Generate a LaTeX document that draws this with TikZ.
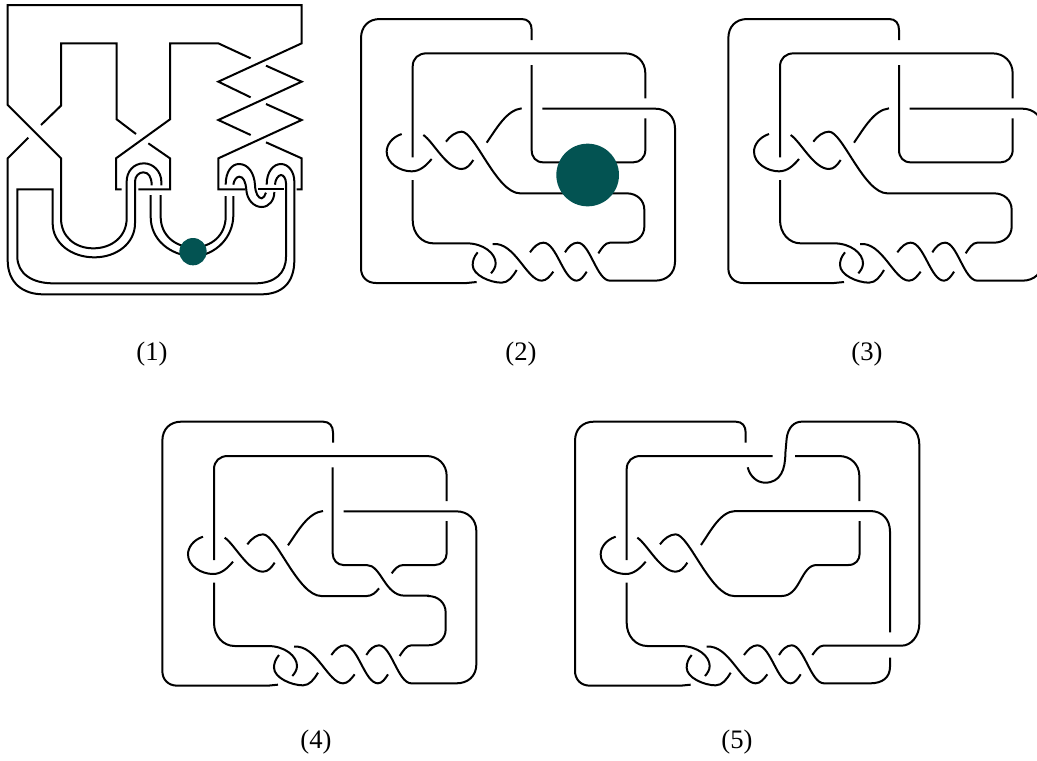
\documentclass[tikz,border=0pt]{standalone}
\usepackage{fontspec}
\setmainfont{Liberation Serif}
\definecolor{dot}{RGB}{3,83,82}
\tikzset{
  strand/.style={draw=black,line width=1.5pt,line join=miter,line cap=butt},
  third/.style={x=0.25pt,y=-0.25pt},
  lab/.style={font=\fontsize{20pt}{24pt}\selectfont,inner sep=0pt,text=black},
}
% pieces common to figures 2-5, in thirds of a pixel
\newcommand\knotcommon{%
  \draw[strand] (380,846) .. controls (365,849) .. (350,849) -- (78,849) .. controls (50,849) and (33,830) .. (33,805) -- (33,115) .. controls (33,80) and (55,57) .. (90,57) -- (515,57) .. controls (535,57) and (545,70) .. (545,90) -- (545,120);
  \draw[strand] (155,402) .. controls (125,412) and (110,435) .. (110,455) .. controls (110,490) and (150,514) .. (185,514) .. controls (210,514) and (228,497) .. (245,477);
  \draw[strand] (220,405) .. controls (250,425) and (290,507) .. (335,507) .. controls (350,507) and (360,495) .. (370,480);
  \draw[strand] (188,540) -- (188,660) .. controls (188,700) and (215,730) .. (250,730) -- (350,730) .. controls (400,730) and (437,760) .. (437,790) .. controls (437,802) and (430,812) .. (423,820);
  \draw[strand] (383,757) .. controls (372,770) and (368,782) .. (368,795) .. controls (368,825) and (420,848) .. (455,848) .. controls (475,848) and (488,830) .. (500,810);
  \draw[strand] (428,732) .. controls (495,725) and (530,842) .. (575,842) .. controls (590,842) and (600,828) .. (610,815);
  \draw[strand] (540,757) .. controls (552,740) and (565,728) .. (580,728) .. controls (620,728) and (640,842) .. (680,842) .. controls (692,842) and (702,828) .. (710,815);
}
% the unchanged upper strand of figures 2-4
\newcommand\bfull{\draw[strand] (188,472) -- (188,200) .. controls (188,175) and (205,160) .. (230,160) -- (825,160) .. controls (860,160) and (886,185) .. (886,220) -- (886,295);}
\newcommand\eright{\draw[strand] (645,757) .. controls (655,740) and (668,728) .. (683,728) .. controls (720,728) and (740,842) .. (780,842) -- (915,842) .. controls (950,842) and (975,820) .. (975,785) -- (975,385) .. controls (975,350) and (950,326) .. (915,326) -- (577,326);
  \draw[strand] (410,428) .. controls (440,385) and (470,330) .. (515,325);}
\newcommand\etail{(830,580) .. controls (860,580) and (883,600) .. (883,630) -- (883,680) .. controls (883,708) and (860,728) .. (830,728) -- (780,728) .. controls (765,728) and (755,745) .. (745,760)}
\begin{document}
\begin{tikzpicture}[x=0.75pt,y=-0.75pt]
\clip (0,0) rectangle (1037,760);
\fill[white] (0,0) rectangle (1037,760);
% figure 1
\begin{scope}[third]
  \draw[strand] (752,292) -- (655,245) -- (905,130) -- (905,15) -- (23,15) -- (23,315) -- (183,475) -- (183,655) .. controls (183,710) and (225,745) .. (280,745) .. controls (335,745) and (380,710) .. (380,655) -- (380,545) .. controls (380,515) and (400,490) .. (432,490) .. controls (460,490) and (484,515) .. (484,545) -- (484,556);
  \draw[strand] (455,556) .. controls (455,530) and (445,517) .. (430,517) .. controls (417,517) and (405,528) .. (405,545) -- (405,670) .. controls (405,730) and (350,772) .. (283,772) .. controls (215,772) and (158,730) .. (158,670) -- (158,568) -- (52,568) -- (52,770) .. controls (52,820) and (95,850) .. (160,850) -- (765,850) .. controls (825,850) and (858,820) .. (858,770) -- (858,550) .. controls (858,535) and (850,525) .. (843,525) .. controls (835,525) and (825,540) .. (825,554);
  \draw[strand] (85,413) -- (23,475) -- (23,780) .. controls (23,850) and (70,883) .. (130,883) -- (783,883) .. controls (845,883) and (883,850) .. (883,780) -- (883,545) .. controls (883,515) and (865,492) .. (843,492) .. controls (820,492) and (800,515) .. (800,554);
  \draw[strand] (123,375) -- (183,317) -- (183,130) -- (350,130) -- (350,358) -- (408,402);
  \draw[strand] (445,430) -- (510,475) -- (510,568) -- (415,568);
  \draw[strand] (365,568) -- (348,568) -- (348,475) -- (510,358) -- (510,130) -- (655,130) -- (752,175);
  \draw[strand] (798,197) -- (905,245) -- (655,360) -- (752,405);
  \draw[strand] (798,312) -- (905,360) -- (655,475) -- (655,568) -- (735,568);
  \draw[strand] (798,427) -- (905,475) -- (905,568) -- (890,568);
  \draw[strand] (775,568) -- (852,568);
  \draw[strand] (452,585) -- (452,650) .. controls (452,720) and (510,765) .. (580,770) .. controls (650,765) and (700,710) .. (700,645) -- (700,588);
  \draw[strand] (482,585) -- (482,650) .. controls (482,705) and (525,742) .. (580,742) .. controls (635,742) and (677,705) .. (677,650) -- (677,588);
  \draw[strand] (700,554) .. controls (702,540) and (710,530) .. (718,530) .. controls (730,530) and (737,545) .. (739,570) .. controls (741,600) and (762,621) .. (785,621) .. controls (808,621) and (823,600) .. (823,576);
  \draw[strand] (677,554) .. controls (677,515) and (695,492) .. (717,492) .. controls (745,492) and (763,520) .. (765,555) .. controls (766,580) and (775,595) .. (785,595) .. controls (790,595) and (795,587) .. (798,578);
  \fill[dot] (579,755) circle [radius=41];
\end{scope}
% figure 2
\begin{scope}[third,xshift=262.5pt]
  \knotcommon \bfull \eright
  \draw[strand] (886,355) -- (886,450) .. controls (886,472) and (870,487) .. (850,487) -- (580,487) .. controls (558,487) and (545,472) .. (545,450) -- (545,195);
  \draw[strand] (288,425) .. controls (300,408) and (318,395) .. (335,395) .. controls (375,395) and (440,580) .. (510,580) -- \etail;
  \fill[dot] (713,525) circle [radius=94];
\end{scope}
% figure 3
\begin{scope}[third,xshift=538pt]
  \knotcommon \bfull \eright
  \draw[strand] (886,355) -- (886,450) .. controls (886,472) and (870,487) .. (850,487) -- (580,487) .. controls (558,487) and (545,472) .. (545,450) -- (545,195);
  \draw[strand] (288,425) .. controls (300,408) and (318,395) .. (335,395) .. controls (375,395) and (440,580) .. (510,580) -- \etail;
\end{scope}
% figure 4
\begin{scope}[third,xshift=113.5pt,yshift=-302pt]
  \knotcommon \bfull \eright
  \draw[strand] (886,355) -- (886,452) .. controls (886,472) and (870,487) .. (851,487) -- (756,487) .. controls (740,487) and (730,500) .. (721,512);
  \draw[strand] (544,194) -- (544,452) .. controls (544,472) and (558,487) .. (576,487) -- (646,487) .. controls (690,487) and (700,579) .. (760,579) -- (830,579) -- \etail;
  \draw[strand] (288,425) .. controls (300,408) and (318,395) .. (335,395) .. controls (375,395) and (440,580) .. (510,580) -- (646,580) .. controls (662,580) and (673,570) .. (683,557);
\end{scope}
% figure 5
\begin{scope}[third,xshift=423pt,yshift=-302pt]
  \knotcommon
  \draw[strand] (188,472) -- (188,200) .. controls (188,175) and (205,160) .. (230,160) -- (626,160);
  \draw[strand] (693,160) -- (825,160) .. controls (860,160) and (886,185) .. (886,220) -- (886,295);
  \draw[strand] (551,194) .. controls (558,222) and (580,240) .. (603,240) .. controls (650,240) and (664,200) .. (664,152) -- (668,107) .. controls (672,75) and (690,57) .. (713,57) -- (993,57) .. controls (1040,57) and (1066,85) .. (1066,127) -- (1066,662) .. controls (1066,702) and (1040,729) .. (1013,729) -- (778,729) .. controls (765,729) and (755,743) .. (745,757);
  \draw[strand] (645,757) .. controls (655,740) and (668,728) .. (683,728) .. controls (720,728) and (740,842) .. (780,842) -- (918,842) .. controls (955,842) and (978,825) .. (978,792) -- (978,765);
  \draw[strand] (411,427) .. controls (440,385) and (470,325) .. (515,325) -- (918,325) .. controls (955,325) and (978,350) .. (978,387) -- (978,689);
  \draw[strand] (288,425) .. controls (300,408) and (318,395) .. (335,395) .. controls (375,395) and (440,580) .. (510,580) -- (653,580) .. controls (710,580) and (710,487) .. (758,487) -- (853,487) .. controls (875,487) and (887,472) .. (887,452) -- (887,355);
\end{scope}
% captions
\node[lab] (c1) at (152,354) {(1)};
\node[lab] (c2) at (521,354) {(2)};
\node[lab] (c3) at (867,354) {(3)};
\node[lab] (c4) at (316,742) {(4)};
\node[lab] (c5) at (737,742) {(5)};
\end{tikzpicture}
\end{document}
